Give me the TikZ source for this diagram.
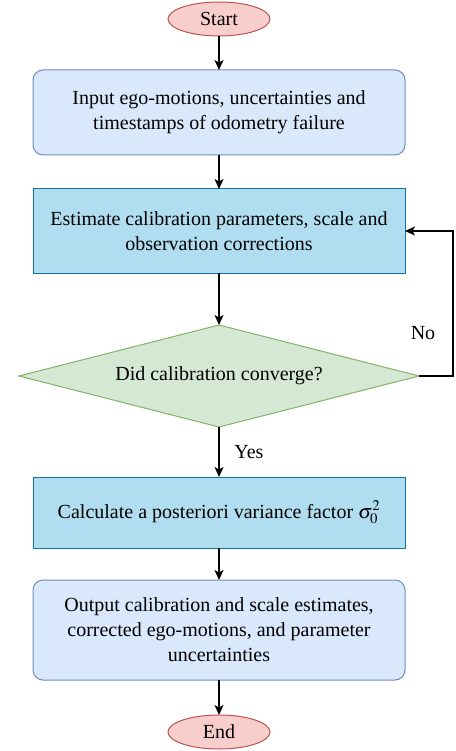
\documentclass[tikz,border=0pt]{standalone}
\usepackage{mathptmx}
\usepackage{fontspec}
\setmainfont{Liberation Serif}
\usetikzlibrary{positioning, arrows.meta, shapes.geometric}

\definecolor{termfill}{HTML}{F8CECC}
\definecolor{termline}{HTML}{B85450}
\definecolor{iofill}{HTML}{DAE8FC}
\definecolor{ioline}{HTML}{6C8EBF}
\definecolor{procfill}{HTML}{B1DDF0}
\definecolor{procline}{HTML}{10739E}
\definecolor{decfill}{HTML}{D5E8D4}
\definecolor{decline}{HTML}{82B366}

\begin{document}
\begin{tikzpicture}[
  x=1pt, y=-1pt,
  font=\fontsize{20}{25}\selectfont,
  every node/.style={outer sep=0pt},
  term/.style={ellipse, draw=termline, fill=termfill, line width=1pt,
    minimum width=102pt, minimum height=34pt, inner sep=0pt},
  io/.style={draw=ioline, fill=iofill, rounded corners=10pt, line width=1pt,
    minimum width=372pt, minimum height=85pt, align=center},
  proc/.style={draw=procline, fill=procfill, line width=1pt,
    minimum width=372pt, align=center},
  decide/.style={diamond, draw=decline, fill=decfill, line width=1pt,
    minimum width=400pt, minimum height=102pt, aspect=4, inner sep=0pt},
  arrow/.style={-{Stealth[length=10pt, width=9pt, inset=2.5pt]}, line width=1.3pt},
]
  \useasboundingbox (0,0) rectangle (455,751);

  \node[term] (start) at (219,19) {Start};
  \node[io, below=34pt of start] (input)
    {Input ego-motions, uncertainties and\\timestamps of odometry failure};
  \node[proc, minimum height=84pt, below=34pt of input] (estim)
    {Estimate calibration parameters, scale and\\observation corrections};
  \node[decide, below=52pt of estim] (conv) {Did calibration converge?};
  \node[proc, minimum height=71pt, below=50pt of conv] (calc)
    {Calculate a posteriori variance factor $\sigma_0^2$};
  \node[io, minimum height=100pt, below=32pt of calc] (output)
    {Output calibration and scale estimates,\\corrected ego-motions, and parameter\\uncertainties};
  \node[term, below=35pt of output] (end) {End};

  \draw[arrow] (start) -- (input);
  \draw[arrow] (input) -- (estim);
  \draw[arrow] (estim) -- (conv);
  \draw[arrow] (conv) -- node[right=12pt] (yes) {Yes} (calc);
  \draw[arrow] (calc) -- (output);
  \draw[arrow] (output) -- (end);

  % loop back when not converged
  \draw[arrow] (conv.east) -- ++(34,0) coordinate (loop) |- (estim.east);
  \node (no) at (423,333) {No};
\end{tikzpicture}
\end{document}
